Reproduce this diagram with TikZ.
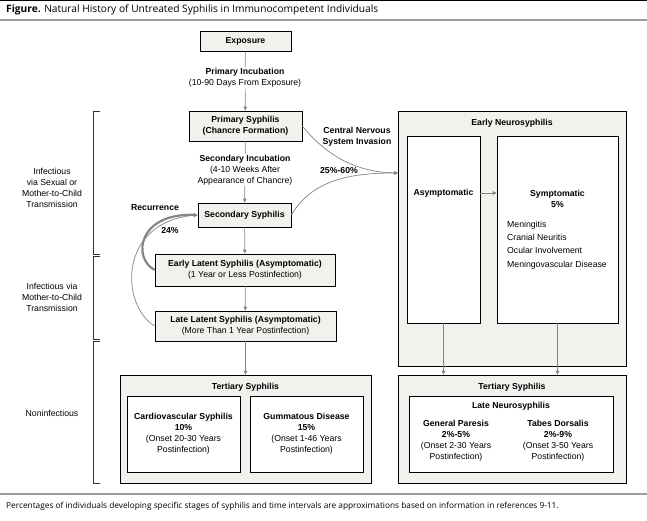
\documentclass[tikz,border=0pt]{standalone}
\usepackage{fontspec}
\setmainfont{Liberation Sans}
\newfontfamily\capfont{Open Sans}
\usepackage{tikz}
\usetikzlibrary{arrows.meta,calc,positioning}
\definecolor{boxfill}{HTML}{F2F1EE}
\definecolor{arrowgray}{HTML}{858585}
\definecolor{rulegray}{HTML}{9C9C9C}
\newcommand{\dfont}{\fontsize{8.7}{10.9}\selectfont}
\newcommand{\cfont}{\capfont\fontsize{10.2}{12}\selectfont}
\newcommand{\ffont}{\capfont\fontsize{8.3}{10}\selectfont}

\begin{document}
\begin{tikzpicture}[x=1pt,y=-1pt,
      stage/.style={draw=black,fill=boxfill,line width=0.7pt,inner sep=0pt,align=center,font=\dfont\bfseries},
      panel/.style={draw=black,fill=boxfill,line width=0.7pt,inner sep=0pt},
      inbox/.style={draw=black,fill=white,line width=0.7pt,inner sep=0pt},
      lbl/.style={inner sep=1pt,align=center,font=\dfont},
      arr/.style={-{Triangle[length=4pt,width=3.6pt]},line width=0.7pt,color=arrowgray},
      bracket/.style={line width=0.7pt,color=black!80}
    ]
      \useasboundingbox (0,0) rectangle (647,521);
      % caption and rules
      \draw[line width=0.8pt] (0,0.5) -- (647,0.5);
      \node[anchor=west,inner sep=0pt,font=\cfont] (cap) at (6,10) {\textbf{Figure.} Natural History of Untreated Syphilis in Immunocompetent Individuals};
      \draw[rulegray,line width=2pt] (0,20.5) -- (647,20.5);
      \draw[rulegray,line width=1.3pt] (0,494) -- (647,494);
      \node[anchor=west,inner sep=0pt,font=\ffont] (foot) at (6,506) {Percentages of individuals developing specific stages of syphilis and time intervals are approximations based on information in references 9-11.};

      % main column
      \node[stage,minimum width=91pt,minimum height=20pt] (expo) at (245.5,41) {Exposure};
      \node[lbl] (inc1) at (245,78) {\textbf{Primary Incubation}\\(10-90 Days From Exposure)};
      \node[stage,minimum width=113pt,minimum height=30pt] (prim) at (245.5,126) {Primary Syphilis\\(Chancre Formation)};
      \node[lbl] (inc2) at (245,170) {\textbf{Secondary Incubation}\\(4-10 Weeks After\\Appearance of Chancre)};
      \node[stage,minimum width=93pt,minimum height=24pt] (sec) at (244.5,215) {Secondary Syphilis};
      \node[stage,minimum width=180pt,minimum height=32pt] (early) at (245,270) {Early Latent Syphilis (Asymptomatic)\\\mdseries(1 Year or Less Postinfection)};
      \node[stage,minimum width=181pt,minimum height=30pt] (late) at (245.5,326) {Late Latent Syphilis (Asymptomatic)\\\mdseries(More Than 1 Year Postinfection)};

      % tertiary, left
      \node[panel,minimum width=251pt,minimum height=108pt] (tert1) at (245.5,429) {};
      \node[lbl,font=\dfont\bfseries] (tert1t) at (245.5,387) {Tertiary Syphilis};
      \node[inbox,minimum width=113pt,minimum height=76pt] (cardio) at (183.5,434) {};
      \node[lbl] (cardiot) at (cardio) {\textbf{Cardiovascular Syphilis}\\\textbf{10\%}\\(Onset 20-30 Years\\Postinfection)};
      \node[inbox,minimum width=113pt,minimum height=76pt] (gumma) at (306.5,434) {};
      \node[lbl] (gummat) at (gumma) {\textbf{Gummatous Disease}\\\textbf{15\%}\\(Onset 1-46 Years\\Postinfection)};

      % early neurosyphilis
      \node[panel,minimum width=228pt,minimum height=255pt] (neuro) at (512,238.5) {};
      \node[lbl,font=\dfont\bfseries] (neurot) at (512,123) {Early Neurosyphilis};
      \node[inbox,minimum width=73pt,minimum height=187pt] (asym) at (443.5,229.5) {};
      \node[lbl,font=\dfont\bfseries] (asymt) at (443.5,193) {Asymptomatic};
      \node[inbox,minimum width=121pt,minimum height=187pt] (symp) at (557.5,229.5) {};
      \node[lbl,font=\dfont\bfseries] (sympt) at (557.5,199) {Symptomatic\\5\%};
      \node[lbl,align=left,anchor=north west,font=\fontsize{8.7}{13.4}\selectfont] (sympl) at (506,219.5) {Meningitis\\Cranial Neuritis\\Ocular Involvement\\Meningovascular Disease};
      \coordinate (cnsin) at (398,173);

      % tertiary, right
      \node[panel,minimum width=228pt,minimum height=108pt] (tert2) at (512,429) {};
      \node[lbl,font=\dfont\bfseries] (tert2t) at (512,387) {Tertiary Syphilis};
      \node[inbox,minimum width=204pt,minimum height=76pt] (lateneuro) at (511,434) {};
      \node[lbl,font=\dfont\bfseries] (lateneurot) at (511,406) {Late Neurosyphilis};
      \node[lbl] (paresis) at (456,441) {\textbf{General Paresis}\\\textbf{2\%-5\%}\\(Onset 2-30 Years\\Postinfection)};
      \node[lbl] (tabes) at (558,441) {\textbf{Tabes Dorsalis}\\\textbf{2\%-9\%}\\(Onset 3-50 Years\\Postinfection)};

      % left side labels
      \node[lbl] (inf1) at (52,188) {Infectious\\via Sexual or\\Mother-to-Child\\Transmission};
      \node[lbl] (inf2) at (52,297) {Infectious via\\Mother-to-Child\\Transmission};
      \node[lbl] (noninf) at (52,413) {Noninfectious};
      \draw[bracket] (100,111) -- (93,111) -- (93,254) -- (100,254);
      \draw[bracket] (100,256) -- (93,256) -- (93,339) -- (100,339);
      \draw[bracket] (100,341) -- (93,341) -- (93,483) -- (100,483);

      % connectors
      \draw[arrowgray,line width=0.7pt] (expo) -- (inc1);
      \draw[arr] (inc1) -- (prim);
      \draw[arrowgray,line width=0.7pt] (prim) -- (inc2);
      \draw[arr] (inc2) -- (sec);
      \draw[arr] (sec) -- (early);
      \draw[arr] (early) -- (late);
      \draw[arr] (late) -- (tert1);
      \draw[arr] (asym.east |- asymt) -- (symp.west |- asymt);
      \draw[arr] (asym.south) -- (asym.south |- tert2.north);
      \draw[arr] (symp.south) -- (symp.south |- tert2.north);
      \draw[arr] (prim.east) .. controls (322,150) and (350,172) .. (cnsin);
      \draw[arr] (sec.east) .. controls (312,180) and (350,173) .. (cnsin);
      \node[lbl,font=\dfont\bfseries] (cns) at (357,137) {Central Nervous\\System Invasion};
      \node[lbl,font=\dfont\bfseries] (cnsp) at (339,171) {25\%-60\%};

      % recurrence
      \draw[arr] (late.west) .. controls (120,305) and (118,222) .. (sec.west);
      \draw[arr,line width=2.2pt] (early.west) .. controls (132,258) and (138,213) .. (sec.west);
      \node[lbl,font=\dfont\bfseries] (recur) at (155,208) {Recurrence};
      \node[lbl,font=\dfont\bfseries] (recp) at (170,230) {24\%};
    \end{tikzpicture}
\end{document}
